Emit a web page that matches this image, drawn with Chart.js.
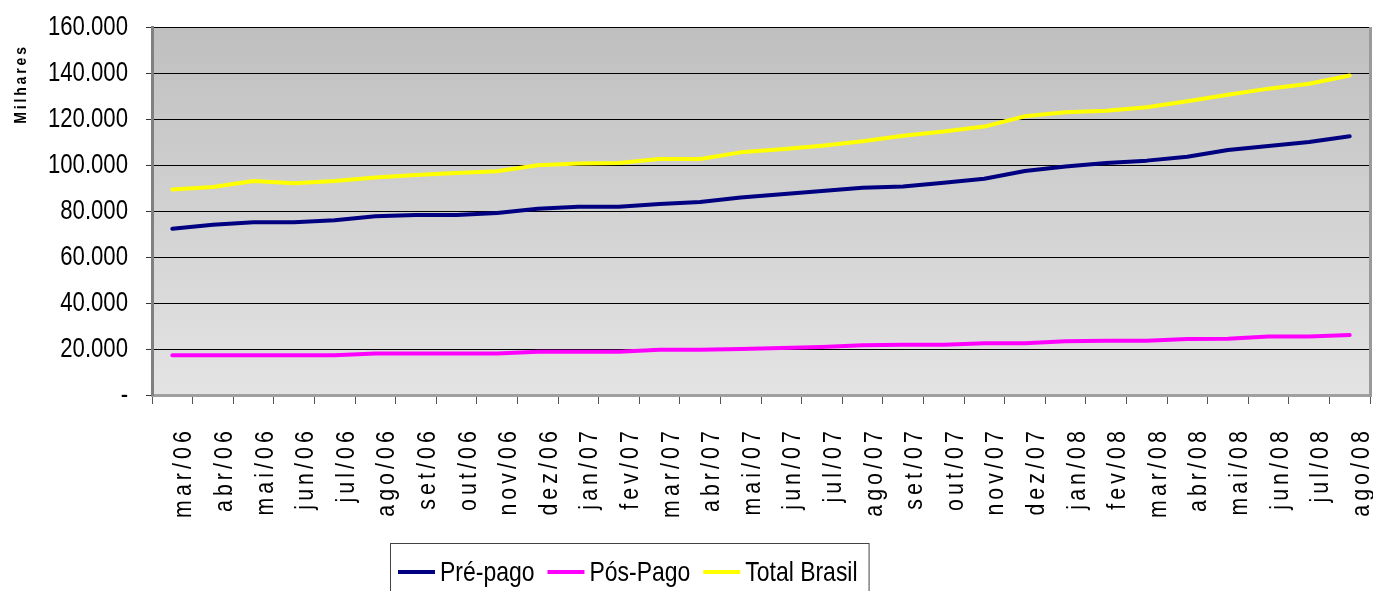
<!DOCTYPE html>
<html lang="pt-BR">
<head>
<meta charset="utf-8">
<title>Acessos móveis - Brasil</title>
<script src="https://cdn.jsdelivr.net/npm/chart.js@4/dist/chart.umd.min.js"></script>
<style>
  html, body { margin: 0; padding: 0; background: #ffffff; }
  #wrap { width: 1373px; height: 591px; }
  canvas { display: block; }
</style>
</head>
<body>
<div id="wrap"><canvas id="chart" width="1373" height="591"></canvas></div>
<script>
// Meses da série
const categories = ['mar/06','abr/06','mai/06','jun/06','jul/06','ago/06','set/06','out/06','nov/06','dez/06',
  'jan/07','fev/07','mar/07','abr/07','mai/07','jun/07','jul/07','ago/07','set/07','out/07','nov/07','dez/07',
  'jan/08','fev/08','mar/08','abr/08','mai/08','jun/08','jul/08','ago/08'];

// Acessos em milhares
const prePago = [72300, 74000, 75100, 75100, 76000, 77700, 78300, 78300, 79100, 81000,
  81900, 81900, 83000, 83900, 85900, 87300, 88700, 90100, 90700, 92300, 94000, 97400,
  99300, 100900, 101900, 103600, 106500, 108300, 110000, 112500];
const posPago = [17300, 17300, 17300, 17300, 17300, 18000, 18000, 18000, 18000, 18800,
  18800, 18800, 19700, 19700, 20000, 20400, 20900, 21600, 21800, 21900, 22500, 22500,
  23400, 23600, 23600, 24300, 24500, 25400, 25400, 26100];
const totalBrasil = [89400, 90400, 93000, 92100, 93000, 94600, 95600, 96500, 97300, 99900,
  100700, 100900, 102600, 102600, 105500, 106800, 108400, 110300, 112700, 114600, 116700, 121200,
  122900, 123600, 125100, 127700, 130500, 133200, 135300, 138900];

const seriesNames = ['Pré-pago', 'Pós-Pago', 'Total Brasil'];
const yTicks = { min: 0, max: 160000, step: 20000 };
const yTitle = 'Milhares';

// Fonte estilo "narrow": Liberation Sans comprimida na horizontal
const FONT = "'Liberation Sans', Arial, sans-serif";
const SQUEEZE = 0.82;

function fmtMilhar(v) {
  if (v === 0) return '-';
  return String(Math.round(v)).replace(/\B(?=(\d{3})+(?!\d))/g, '.');
}

function narrowText(ctx, text, x, y, align, baseline) {
  ctx.save();
  ctx.translate(x, y);
  ctx.scale(SQUEEZE, 1);
  ctx.textAlign = align;
  ctx.textBaseline = baseline;
  ctx.fillText(text, 0, 0);
  ctx.restore();
}

// Fundo em degradê da área de plotagem e moldura direita
const plotFrame = {
  id: 'plotFrame',
  beforeDraw(chart) {
    const { ctx, chartArea: a } = chart;
    const g = ctx.createLinearGradient(0, a.top, 0, a.bottom);
    g.addColorStop(0, '#bfbfbf');
    g.addColorStop(1, '#e4e4e4');
    ctx.save();
    ctx.fillStyle = g;
    ctx.fillRect(a.left, a.top, a.right - a.left, a.bottom - a.top);
    ctx.restore();
  },
  afterDatasetsDraw(chart) {
    const { ctx, chartArea: a } = chart;
    ctx.save();
    ctx.strokeStyle = '#9a9a9a';
    ctx.lineWidth = 3;
    ctx.beginPath();
    ctx.moveTo(a.right + 0.5, a.top);
    ctx.lineTo(a.right + 0.5, a.bottom + 2);
    ctx.stroke();
    ctx.restore();
  }
};

// Rótulos dos eixos, título do eixo Y e legenda com moldura
const annotations = {
  id: 'annotations',
  afterDraw(chart) {
    const { ctx } = chart;
    const xs = chart.scales.x;
    const ys = chart.scales.y;

    // valores do eixo Y
    ctx.save();
    ctx.fillStyle = '#000';
    ctx.font = '27px ' + FONT;
    ys.ticks.forEach(t => {
      narrowText(ctx, fmtMilhar(t.value), 128, ys.getPixelForValue(t.value) + 1, 'right', 'middle');
    });
    ctx.restore();

    // meses na vertical
    ctx.save();
    ctx.fillStyle = '#000';
    ctx.font = '26px ' + FONT;
    ctx.letterSpacing = '5px';
    chart.data.labels.forEach((lab, i) => {
      const x = xs.getPixelForTick(i);
      ctx.save();
      ctx.translate(x + 19, 427);
      ctx.rotate(-Math.PI / 2);
      narrowText(ctx, lab, 0, 0, 'right', 'alphabetic');
      ctx.restore();
    });
    ctx.restore();

    // título do eixo Y
    ctx.save();
    ctx.fillStyle = '#000';
    ctx.font = 'bold 17px ' + FONT;
    ctx.letterSpacing = '3.5px';
    ctx.translate(21, 84);
    ctx.rotate(-Math.PI / 2);
    narrowText(ctx, yTitle, 0, 0, 'center', 'middle');
    ctx.restore();

    // legenda
    ctx.save();
    ctx.font = '28px ' + FONT;
    const left = 390, top = 543;
    let x = left + 8;
    const yLine = 572;
    chart.data.datasets.forEach(ds => {
      ctx.strokeStyle = ds.borderColor;
      ctx.lineWidth = 4;
      ctx.beginPath();
      ctx.moveTo(x, yLine);
      ctx.lineTo(x + 37, yLine);
      ctx.stroke();
      x += 42;
      ctx.fillStyle = '#000';
      narrowText(ctx, ds.label, x, 581, 'left', 'alphabetic');
      x += ctx.measureText(ds.label).width * SQUEEZE + 13;
    });
    const right = x - 2;
    ctx.strokeStyle = '#444';
    ctx.lineWidth = 1;
    ctx.strokeRect(left + 0.5, top + 0.5, right - left, 80);
    ctx.restore();
  }
};

const chart = new Chart(document.getElementById('chart'), {
  type: 'line',
  data: {
    labels: categories,
    datasets: [
      { label: seriesNames[0], data: prePago, borderColor: '#000080', backgroundColor: '#000080' },
      { label: seriesNames[1], data: posPago, borderColor: '#ff00ff', backgroundColor: '#ff00ff' },
      { label: seriesNames[2], data: totalBrasil, borderColor: '#ffff00', backgroundColor: '#ffff00' }
    ]
  },
  options: {
    responsive: false,
    animation: false,
    devicePixelRatio: 1,
    layout: { padding: { top: 27, right: 3, left: 0, bottom: 0 } },
    elements: {
      line: { borderWidth: 4, tension: 0, borderCapStyle: 'round', borderJoinStyle: 'round' },
      point: { radius: 0, hoverRadius: 0 }
    },
    plugins: {
      legend: { display: false },
      tooltip: { enabled: false }
    },
    scales: {
      x: {
        type: 'category',
        offset: true,
        grid: {
          offset: true,
          drawOnChartArea: false,
          drawTicks: true,
          tickLength: 9,
          tickColor: '#555555',
          lineWidth: 1
        },
        border: { display: true, color: '#a0a0a0', width: 3 },
        ticks: { display: false },
        afterFit(scale) { scale.height = 196; }
      },
      y: {
        min: yTicks.min,
        max: yTicks.max,
        ticks: { display: false, stepSize: yTicks.step },
        grid: {
          color: '#000000',
          lineWidth: 1,
          tickLength: 6,
          tickColor: '#333333'
        },
        border: { display: true, color: '#808080', width: 3 },
        afterFit(scale) { scale.width = 152; }
      }
    }
  },
  plugins: [plotFrame, annotations]
});
</script>
</body>
</html>
